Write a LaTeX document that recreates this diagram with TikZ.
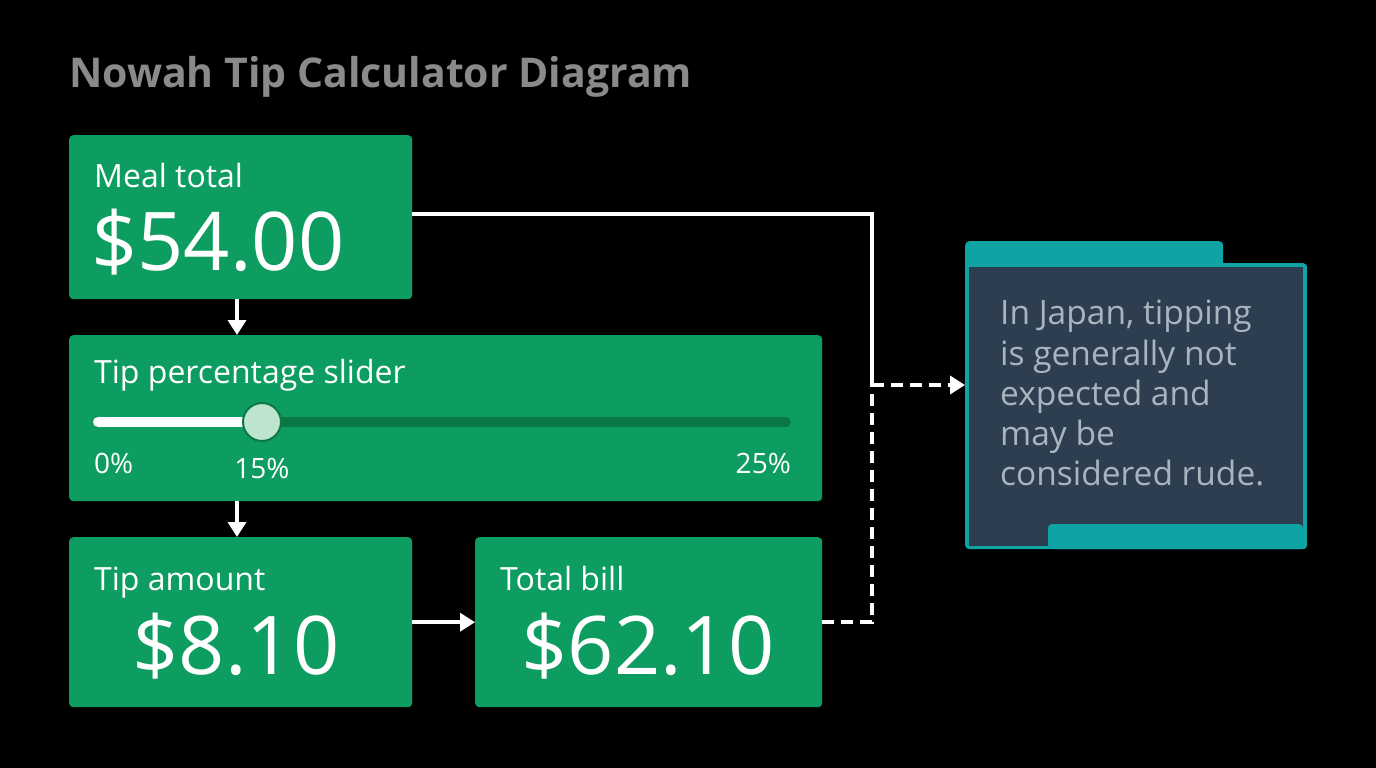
\documentclass[tikz,border=0pt]{standalone}
\usepackage{fontspec}
\setmainfont{Open Sans}
\usepackage{tikz}
\usetikzlibrary{arrows.meta, positioning}
\definecolor{cardgreen}{HTML}{0E9D60}
\definecolor{trackdark}{HTML}{0A7745}
\definecolor{knobfill}{HTML}{BDE4CF}
\definecolor{titlegray}{HTML}{8A8A8A}
\definecolor{notefill}{HTML}{2C3E50}
\definecolor{noteteal}{HTML}{0FA3A3}
\definecolor{notetext}{HTML}{A9B4BF}
\tikzset{>={Triangle[width=18pt,length=15pt]}}
\tikzset{
  card/.style={fill=cardgreen, rounded corners=4pt, inner sep=0pt, anchor=north west},
  cardlabel/.style={text=white, inner sep=0pt, anchor=base west, font=\fontsize{32}{38}\selectfont},
  amount/.style={text=white, inner sep=0pt, font=\fontsize{81}{90}\selectfont},
  ticklabel/.style={text=white, inner sep=0pt, font=\fontsize{28}{34}\selectfont},
  link/.style={draw=white, line width=3.5pt},
}

\begin{document}
\begin{tikzpicture}[x=1pt, y=-1pt]
		\fill[black] (0,0) rectangle (1376,768);
		\useasboundingbox (0,0) rectangle (1376,768);
		\node[text=titlegray, inner sep=0pt, anchor=base west, font=\fontsize{41}{46}\selectfont\bfseries] (title) at (69,88) {Nowah Tip Calculator Diagram};
		% cards
		\node[card, minimum width=343pt, minimum height=164pt] (meal) at (69,135) {};
		\node[card, minimum width=753pt, minimum height=166pt] (slider) at (69,335) {};
		\node[card, minimum width=343pt, minimum height=170pt] (tip) at (69,537) {};
		\node[card, minimum width=347pt, minimum height=170pt] (total) at (475,537) {};
		\node[cardlabel] (mealtext) at (94,187) {Meal total};
		\node[amount, anchor=base west] (mealval) at (91,270) {\$54.00};
		\node[cardlabel] (slidertext) at (94,383) {Tip percentage slider};
		\node[cardlabel] (tiptext) at (94,590) {Tip amount};
		\node[amount, anchor=base] (tipval) at (236,674) {\$8.10};
		\node[cardlabel] (totaltext) at (500,590) {Total bill};
		\node[amount, anchor=base] (totalval) at (648,674) {\$62.10};
		% slider
		\draw[trackdark, line width=10pt, line cap=round] (98,422) -- (786,422);
		\draw[white, line width=10pt, line cap=round] (98,422) -- (262,422);
		\node[circle, fill=knobfill, draw=trackdark, line width=2pt, minimum size=38pt, inner sep=0pt] (knob) at (262,422) {};
		\node[ticklabel, anchor=base west] (lo) at (94,473) {0\%};
		\node[ticklabel, anchor=base] (mid) at (262,478) {15\%};
		\node[ticklabel, anchor=base east] (hi) at (791,473) {25\%};
		% note
		\node[fill=noteteal, rounded corners=4pt, inner sep=0pt, anchor=north west, minimum width=258pt, minimum height=30pt] (tab) at (965,241) {};
		\node[fill=noteteal, rounded corners=4pt, inner sep=0pt, anchor=north west, minimum width=342pt, minimum height=286pt] (note) at (965,263) {};
		\fill[notefill] (969,267) rectangle (1303,546);
		\fill[noteteal, rounded corners=4pt] (1048,549) -- (1048,524) -- (1303,524) -- (1303,549) -- cycle;
		\node[text=notetext, inner sep=0pt, anchor=north west, align=left, font=\fontsize{33.5}{40.3}\selectfont] (notetext) at (1000,300)
			{In Japan, tipping\\is generally not\\expected and\\may be\\considered rude.};
		% connectors
		\coordinate (j) at (872,385);
		\draw[link, ->] (meal.south -| 237,0) -- (slider.north -| 237,0);
		\draw[link, ->] (slider.south -| 237,0) -- (tip.north -| 237,0);
		\draw[link, ->] (tip.east) -- (total.west);
		\draw[link] (meal.east |- 0,214) -| (j);
		\draw[link, dash pattern=on 12pt off 7pt] (total.east) -| (j);
		\draw[link, dash pattern=on 12pt off 7pt, ->] (j) -- (note.west |- j);
\end{tikzpicture}
\end{document}
